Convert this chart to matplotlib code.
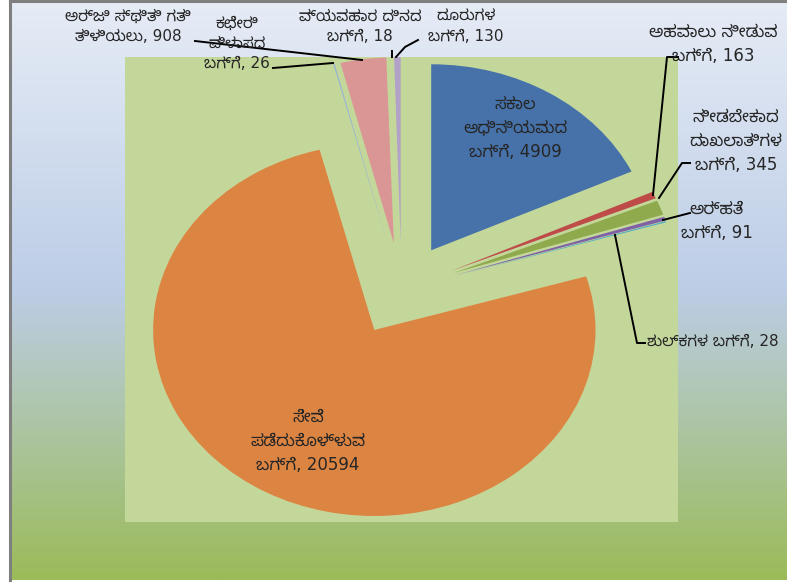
import numpy as np
import matplotlib
matplotlib.use("Agg")
import matplotlib.pyplot as plt
import matplotlib.font_manager as fm
from matplotlib.colors import LinearSegmentedColormap
from matplotlib.lines import Line2D

# ---------------- data ----------------
categories = [
    "ಸಕಾಲ\nಅಧಿನಿಯಮದ\nಬಗ್ಗೆ",
    "ಅಹವಾಲು ನೀಡುವ\nಬಗ್ಗೆ",
    "ನೀಡಬೇಕಾದ\nದಾಖಲಾತಿಗಳ\nಬಗ್ಗೆ",
    "ಅರ್ಹತೆ\nಬಗ್ಗೆ",
    "ಶುಲ್ಕಗಳ ಬಗ್ಗೆ",
    "ಸೇವೆ\nಪಡೆದುಕೊಳ್ಳುವ\nಬಗ್ಗೆ",
    "ಕಛೇರಿ\nವಿಳಾಸದ\nಬಗ್ಗೆ",
    "ಅರ್ಜಿ ಸ್ಥಿತಿ ಗತಿ\nತಿಳಿಯಲು",
    "ವ್ಯವಹಾರ ದಿನದ\nಬಗ್ಗೆ",
    "ದೂರುಗಳ\nಬಗ್ಗೆ",
]
values = [4909, 163, 345, 91, 28, 20594, 26, 908, 18, 130]
colors = ["#4672A9", "#BE4B48", "#8EAA4C", "#7F62A6", "#4BACC6",
          "#DC8442", "#95B3D7", "#D99694", "#C3D69B", "#B3A2C7"]

# ---------------- fonts ----------------
fam = ["DejaVu Sans"]
try:
    from fontTools.ttLib import TTFont
    cands = []
    for f in sorted(fm.findSystemFonts()):
        if "CJK" in f:
            continue
        try:
            tt = TTFont(f, fontNumber=0, lazy=True)
            cm = tt.getBestCmap()
            if cm and 0x0C95 in cm:
                cands.append(f)
        except Exception:
            pass
    def rank(f):
        low = f.lower()
        r = 0
        if "kannada" in low:
            r -= 10
        if "mono" in low:
            r += 5
        if "bold" in low or "italic" in low or "oblique" in low:
            r += 3
        if "sans" in low:
            r -= 1
        return r
    cands.sort(key=rank)
    if cands:
        fm.fontManager.addfont(cands[0])
        fam = ["DejaVu Sans", fm.FontProperties(fname=cands[0]).get_name()]
except Exception:
    pass
plt.rcParams["font.family"] = fam

W, H = 787, 583
fig = plt.figure(figsize=(W / 100, H / 100), dpi=100)
fig.patch.set_facecolor("white")

def fx(x):
    return x / W

def fy(y):
    return 1 - y / H

# ---------------- background gradient ----------------
bg = fig.add_axes([fx(10), fy(580), fx(777), 580 / H])
cmap = LinearSegmentedColormap.from_list(
    "bg", [(0.0, "#E6ECF6"), (0.5, "#BCCDE6"), (1.0, "#9BBB59")])
grad = np.linspace(0, 1, 256).reshape(-1, 1)
bg.imshow(grad, cmap=cmap, aspect="auto", extent=[0, 1, 0, 1], origin="upper")
bg.set_xlim(0, 1)
bg.set_ylim(0, 1)
bg.axis("off")
fig.add_artist(Line2D([fx(10), fx(10)], [fy(580), fy(1)], color="#7F7F7F", lw=2.2))
fig.add_artist(Line2D([fx(10), 1], [fy(1), fy(1)], color="#7F7F7F", lw=2.2))

# ---------------- pie ----------------
ax = fig.add_axes([fx(125), fy(522), fx(553), 465 / H])
explode = [0.25] * len(values)
ax.pie(values, colors=colors, explode=explode, startangle=90,
       counterclock=False, radius=1.0, wedgeprops=dict(linewidth=0))
ax.set_frame_on(True)
ax.set_facecolor("#C4D79B")
ax.set_aspect("auto")
ax.set_xlim(-1.25, 1.25)
ax.set_ylim(-1.25, 1.25)
ax.set_xticks([])
ax.set_yticks([])
for s in ax.spines.values():
    s.set_visible(False)

# ---------------- labels ----------------
tc = "#262626"
def label(i, x, y, ha="center", fs=12):
    txt = f"{categories[i]}, {values[i]}"
    fig.text(fx(x), fy(y), txt, ha=ha, va="center", fontsize=fs, color=tc,
             linespacing=1.42, multialignment="center")

def leader(pts):
    xs = [fx(p[0]) for p in pts]
    ys = [fy(p[1]) for p in pts]
    fig.add_artist(Line2D(xs, ys, color="black", lw=1.4))

label(0, 515, 128)
label(5, 308, 441)
label(1, 713, 44)
label(2, 736, 141)
label(3, 717, 221)
label(4, 647, 342, ha="left", fs=11)
label(7, 128, 26, fs=11)
label(6, 237, 43, fs=11)
label(8, 360, 26, fs=11)
label(9, 466, 26, fs=11)

leader([(678, 57), (667, 57), (653, 195)])
leader([(690, 163), (682, 163), (659, 198)])
leader([(690, 213), (663, 220)])
leader([(645, 343), (637, 343), (615, 235)])
leader([(195, 41), (362, 60)])
leader([(273, 68), (333, 63)])
leader([(392, 51), (392, 57)])
leader([(418, 40), (405, 47), (396, 57)])

fig.savefig("out.png", dpi=100)
